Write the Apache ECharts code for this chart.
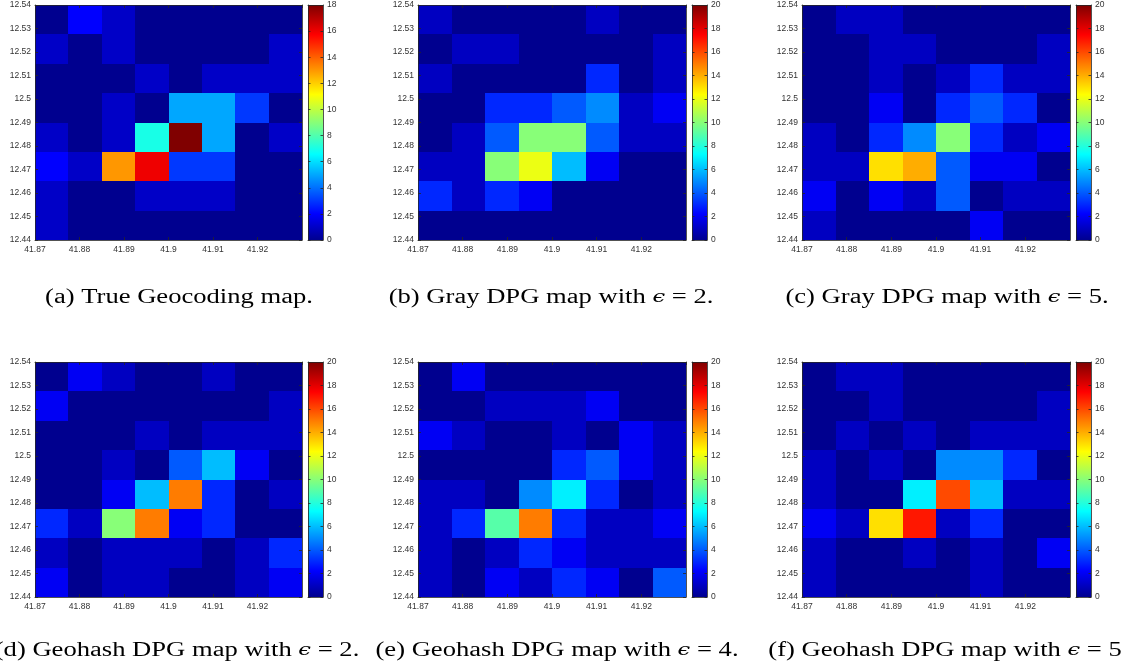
<!DOCTYPE html>
<html>
<head>
<meta charset="utf-8">
<script src="https://cdn.jsdelivr.net/npm/echarts@6/dist/echarts.min.js"></script>
<style>
  html, body { margin: 0; padding: 0; background: #ffffff; }
  #chart { width: 1131px; height: 670px; }
</style>
</head>
<body>
<div id="chart"></div>
<script>
// Grid of geocoded counts: 8 x 8 cells, rows listed north (top) to south (bottom).
const lonTicks = [41.87, 41.88, 41.89, 41.9, 41.91, 41.92];
const latTicks = [12.44, 12.45, 12.46, 12.47, 12.48, 12.49, 12.5, 12.51, 12.52, 12.53, 12.54];
const lonStart = 41.87, lonStep = 0.0075, lonCells = 8;
const latTop = 12.54, latStep = 0.0125, latCells = 8;

const geoTrue = [
  [0, 2, 1, 0, 0, 0, 0, 0],
  [1, 0, 1, 0, 0, 0, 0, 1],
  [0, 0, 0, 1, 0, 1, 1, 1],
  [0, 0, 1, 0, 5, 5, 3, 0],
  [1, 0, 1, 7, 18, 5, 0, 1],
  [2, 1, 13, 16, 3, 3, 0, 0],
  [1, 0, 0, 1, 1, 1, 0, 0],
  [1, 0, 0, 0, 0, 0, 0, 0]
];
const grayEps2 = [
  [1, 0, 0, 0, 0, 1, 0, 0],
  [0, 1, 1, 0, 0, 0, 0, 1],
  [1, 0, 0, 0, 0, 3, 0, 1],
  [0, 0, 3, 3, 4, 5, 1, 2],
  [0, 1, 4, 10, 10, 4, 1, 1],
  [1, 1, 10, 12, 6, 2, 0, 0],
  [3, 1, 3, 2, 0, 0, 0, 0],
  [0, 0, 0, 0, 0, 0, 0, 0]
];
const grayEps5 = [
  [0, 1, 1, 0, 0, 0, 0, 0],
  [0, 0, 1, 1, 0, 0, 0, 1],
  [0, 0, 1, 0, 1, 3, 1, 1],
  [0, 0, 2, 0, 3, 4, 3, 0],
  [1, 0, 3, 5, 10, 3, 1, 2],
  [1, 1, 13, 14, 4, 2, 2, 0],
  [2, 0, 2, 1, 4, 0, 1, 1],
  [1, 0, 0, 0, 0, 2, 0, 0]
];
const geohashEps2 = [
  [0, 2, 1, 0, 0, 1, 0, 0],
  [2, 0, 0, 0, 0, 0, 0, 1],
  [0, 0, 0, 1, 0, 1, 1, 1],
  [0, 0, 1, 0, 4, 6, 2, 0],
  [0, 0, 2, 6, 15, 3, 0, 1],
  [3, 1, 10, 15, 2, 3, 0, 0],
  [1, 0, 1, 1, 1, 0, 1, 3],
  [2, 0, 1, 1, 0, 0, 1, 2]
];
const geohashEps4 = [
  [0, 2, 0, 0, 0, 0, 0, 0],
  [0, 0, 1, 1, 1, 2, 0, 0],
  [2, 1, 0, 0, 1, 0, 2, 1],
  [0, 0, 0, 0, 3, 4, 2, 1],
  [1, 1, 0, 5, 7, 3, 0, 1],
  [1, 3, 9, 15, 3, 1, 1, 2],
  [1, 0, 1, 3, 2, 1, 1, 1],
  [1, 0, 2, 1, 3, 2, 0, 4]
];
const geohashEps5 = [
  [0, 1, 1, 0, 0, 0, 0, 0],
  [0, 0, 1, 0, 0, 0, 0, 1],
  [0, 1, 0, 1, 0, 1, 1, 1],
  [1, 0, 1, 0, 5, 5, 3, 0],
  [1, 0, 0, 7, 16, 6, 1, 1],
  [2, 1, 13, 17, 1, 3, 0, 0],
  [1, 0, 0, 1, 0, 1, 0, 2],
  [1, 0, 0, 0, 0, 1, 0, 0]
];

const panelGrids = [geoTrue, grayEps2, grayEps5, geohashEps2, geohashEps4, geohashEps5];
const colorMax = [18, 20, 20, 20, 20, 20];
const colorbarTickStep = 2;
const captions = [
  '(a) True Geocoding map.',
  '(b) Gray DPG map with {e|ϵ} = 2.',
  '(c) Gray DPG map with {e|ϵ} = 5.',
  '(d) Geohash DPG map with {e|ϵ} = 2.',
  '(e) Geohash DPG map with {e|ϵ} = 4.',
  '(f) Geohash DPG map with {e|ϵ} = 5'
];

// Page layout (pixels)
const plotLeft = [35, 418, 802];
const plotWidth = [267, 268, 268];
const plotTop = [5, 362];
const plotHeight = 235;
const cbGap = 6, cbWidth = 15;
const captionY = [298, 651];
const captionX = [[179, 551, 947], [177, 557, 945]];

// MATLAB-style jet colormap
function jet(m) {
  const n = Math.ceil(m / 4);
  const u = [];
  for (let i = 1; i <= n; i++) u.push(i / n);
  for (let i = 1; i < n; i++) u.push(1);
  for (let i = n; i >= 1; i--) u.push(i / n);
  const g0 = Math.ceil(n / 2) - (m % 4 === 1 ? 1 : 0);
  const R = new Array(m).fill(0), G = new Array(m).fill(0), B = new Array(m).fill(0);
  u.forEach((v, k) => {
    const gi = g0 + k + 1, ri = gi + n, bi = gi - n;
    if (gi >= 1 && gi <= m) G[gi - 1] = v;
    if (ri >= 1 && ri <= m) R[ri - 1] = v;
    if (bi >= 1 && bi <= m) B[bi - 1] = v;
  });
  const hex = c => Math.round(c * 255).toString(16).padStart(2, '0');
  return R.map((r, i) => '#' + hex(r) + hex(G[i]) + hex(B[i]));
}
const jetColors = jet(64);

const axisColor = '#262626';
const labelFont = { fontFamily: 'Liberation Sans, Arial, sans-serif', fontSize: 8.5, color: '#333333' };

function baseAxis(extra) {
  return Object.assign({
    type: 'value',
    z: 4,
    axisLine: { show: true, onZero: false, lineStyle: { color: axisColor, width: 0.8 } },
    axisTick: { show: true, inside: true, length: 3, lineStyle: { color: axisColor, width: 0.8 } },
    splitLine: { show: false },
    axisLabel: { show: false }
  }, extra);
}

const grids = [], xAxes = [], yAxes = [], series = [], visualMaps = [], graphics = [];

panelGrids.forEach((cells, k) => {
  const row = Math.floor(k / 3), col = k % 3;
  const left = plotLeft[col], top = plotTop[row], w = plotWidth[col];
  const gPlot = grids.length;
  grids.push({ left: left, top: top, width: w, height: plotHeight, containLabel: false });
  const gBar = grids.length;
  grids.push({ left: left + w + cbGap, top: top, width: cbWidth, height: plotHeight, containLabel: false });

  const lonMax = lonStart + lonCells * lonStep;
  const latMin = latTop - latCells * latStep;

  // heatmap axes: bottom/left carry the labels, top/right close the box
  const xBottom = xAxes.length;
  xAxes.push(baseAxis({
    gridIndex: gPlot, position: 'bottom', min: lonStart, max: lonMax, interval: 0.01,
    axisLabel: Object.assign({ show: true, margin: 5, showMaxLabel: false,
      formatter: v => lonTicks.some(t => Math.abs(t - v) < 1e-6) ? String(+v.toFixed(2)) : '' }, labelFont)
  }));
  xAxes.push(baseAxis({ gridIndex: gPlot, position: 'top', min: lonStart, max: lonMax, interval: 0.01 }));
  const yLeft = yAxes.length;
  yAxes.push(baseAxis({
    gridIndex: gPlot, position: 'left', min: latMin, max: latTop, interval: 0.01,
    axisLabel: Object.assign({ show: true, margin: 4,
      formatter: v => latTicks.some(t => Math.abs(t - v) < 1e-6) ? String(+v.toFixed(2)) : '' }, labelFont)
  }));
  yAxes.push(baseAxis({ gridIndex: gPlot, position: 'right', min: latMin, max: latTop, interval: 0.01 }));

  // colorbar axes
  const cbX = xAxes.length;
  xAxes.push(baseAxis({ gridIndex: gBar, position: 'bottom', min: 0, max: 1, axisTick: { show: false } }));
  xAxes.push(baseAxis({ gridIndex: gBar, position: 'top', min: 0, max: 1, axisTick: { show: false } }));
  const cbY = yAxes.length;
  yAxes.push(baseAxis({ gridIndex: gBar, position: 'left', min: 0, max: colorMax[k], interval: colorbarTickStep,
    axisTick: { show: true, inside: true, length: 2.5, lineStyle: { color: axisColor, width: 0.8 } } }));
  yAxes.push(baseAxis({
    gridIndex: gBar, position: 'right', min: 0, max: colorMax[k], interval: colorbarTickStep,
    axisTick: { show: true, inside: true, length: 2.5, lineStyle: { color: axisColor, width: 0.8 } },
    axisLabel: Object.assign({ show: true, margin: 4 }, labelFont)
  }));

  const data = [];
  cells.forEach((r, ri) => r.forEach((v, ci) => data.push([ci, ri, v])));

  const cellSeries = series.length;
  series.push({
    type: 'custom',
    xAxisIndex: xBottom, yAxisIndex: yLeft,
    data: data,
    silent: true,
    clip: true,
    renderItem: (params, api) => {
      const c = api.value(0), r = api.value(1);
      const p0 = api.coord([lonStart + c * lonStep, latTop - r * latStep]);
      const p1 = api.coord([lonStart + (c + 1) * lonStep, latTop - (r + 1) * latStep]);
      const x0 = Math.round(p0[0]), y0 = Math.round(p0[1]);
      const x1 = Math.round(p1[0]), y1 = Math.round(p1[1]);
      return {
        type: 'rect',
        shape: { x: x0, y: y0, width: x1 - x0, height: y1 - y0 },
        style: { fill: api.visual('color') }
      };
    }
  });
  visualMaps.push({
    type: 'continuous', show: false, min: 0, max: colorMax[k], dimension: 2,
    seriesIndex: cellSeries, inRange: { color: jetColors }
  });

  series.push({
    type: 'custom',
    xAxisIndex: cbX, yAxisIndex: cbY,
    data: [[colorMax[k]]],
    silent: true,
    renderItem: (params, api) => {
      const p0 = api.coord([0, 0]);
      const p1 = api.coord([1, api.value(0)]);
      return {
        type: 'rect',
        shape: { x: p0[0], y: p1[1], width: p1[0] - p0[0], height: p0[1] - p1[1] },
        style: {
          fill: {
            type: 'linear', x: 0, y: 1, x2: 0, y2: 0,
            colorStops: jetColors.map((c, i) => ({ offset: i / (jetColors.length - 1), color: c }))
          }
        }
      };
    }
  });

  graphics.push({
    type: 'text',
    x: captionX[row][col], y: captionY[row],
    scaleX: 1.33,
    style: {
      text: captions[k],
      fontFamily: 'Liberation Serif, DejaVu Serif, serif',
      fontSize: 20,
      fill: '#000000',
      textAlign: 'center',
      textVerticalAlign: 'middle',
      rich: { e: { fontStyle: 'italic', fontFamily: 'DejaVu Serif, serif', fontSize: 17 } }
    }
  });
});

const chart = echarts.init(document.getElementById('chart'), null, { renderer: 'canvas' });
chart.setOption({
  backgroundColor: '#ffffff',
  animation: false,
  grid: grids,
  xAxis: xAxes,
  yAxis: yAxes,
  visualMap: visualMaps,
  series: series,
  graphic: graphics
});
</script>
</body>
</html>
